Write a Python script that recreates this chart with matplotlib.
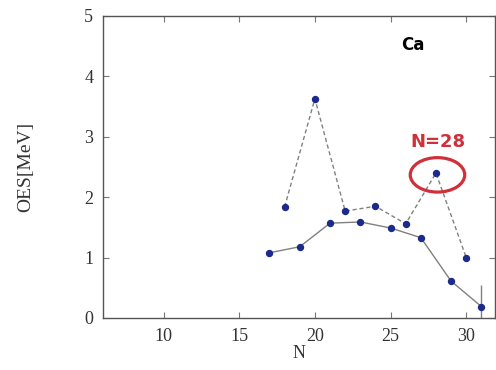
import matplotlib
matplotlib.use("Agg")
import matplotlib.pyplot as plt
from matplotlib.patches import Ellipse

# Odd-even staggering of Ca isotopes
n_odd = [17, 19, 21, 23, 25, 27, 29, 31]
oes_odd = [1.08, 1.18, 1.57, 1.59, 1.49, 1.33, 0.61, 0.19]

n_even = [18, 20, 22, 24, 26, 28, 30]
oes_even = [1.84, 3.63, 1.77, 1.85, 1.56, 2.40, 1.00]

err_n = [31]
err_val = [0.19]
err_size = [0.36]

x_ticks = [10, 15, 20, 25, 30]
y_ticks = [0, 1, 2, 3, 4, 5]

serif = ["Liberation Serif", "DejaVu Serif"]
marker_col = "#1c2a8c"
line_col = "#808080"

fig = plt.figure(figsize=(4.96, 3.70), dpi=100)
ax = fig.add_axes([103 / 496, 52 / 370, 392 / 496, 302 / 370])

ax.plot(n_odd, oes_odd, "-", color=line_col, lw=1.0, zorder=2)
ax.plot(n_even, oes_even, "--", color=line_col, lw=1.0, dashes=(3, 2), zorder=2)
ax.errorbar(err_n, err_val, yerr=err_size, fmt="none", ecolor=line_col,
            elinewidth=1.0, capsize=0, zorder=2)
ax.plot(n_odd, oes_odd, "o", color=marker_col, ms=4.3, zorder=3)
ax.plot(n_even, oes_even, "o", color=marker_col, ms=4.3, zorder=3)

ax.add_patch(Ellipse((28.1, 2.37), 3.6, 0.57, fill=False,
                     edgecolor="#d0303a", lw=2.3, zorder=4))
ax.text(28.1, 2.92, "N=28", color="#d0303a", fontsize=13, fontweight="bold",
        ha="center", va="center", family=["DejaVu Sans"])
ax.text(26.45, 4.52, "Ca", color="black", fontsize=12, fontweight="bold",
        ha="center", va="center", family=["DejaVu Sans"])

ax.set_xlim(6, 31.9)
ax.set_ylim(0, 5)
ax.set_xticks(x_ticks)
ax.set_yticks(y_ticks)
ax.tick_params(direction="in", top=True, right=True, length=4, width=0.8,
               color="#777777", labelsize=13, pad=7)
for lab in ax.get_xticklabels() + ax.get_yticklabels():
    lab.set_family(serif)
    lab.set_color("#333333")
for sp in ax.spines.values():
    sp.set_color("#555555")
    sp.set_linewidth(1.0)

ax.set_xlabel("N", family=serif, fontsize=13, color="#333333", labelpad=0)
ax.set_ylabel("OES[MeV]", family=serif, fontsize=14, color="#333333", labelpad=36)

fig.savefig("out.png", dpi=100)
